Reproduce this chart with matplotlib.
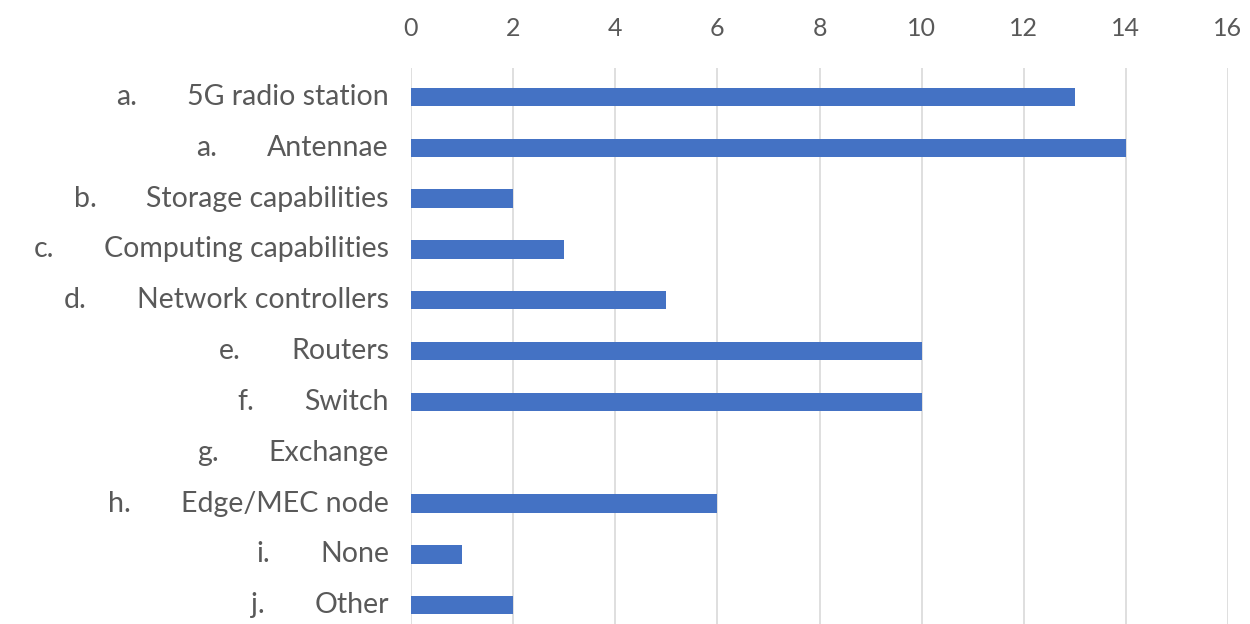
import numpy as np
import matplotlib.pyplot as plt

prefixes = ["a.", "a.", "b.", "c.", "d.", "e.", "f.", "g.", "h.", "i.", "j."]
names = ["5G radio station", "Antennae", "Storage capabilities", "Computing capabilities",
         "Network controllers", "Routers", "Switch", "Exchange", "Edge/MEC node", "None", "Other"]
counts = [13, 14, 2, 3, 5, 10, 10, 0, 6, 1, 2]
xticks = [0, 2, 4, 6, 8, 10, 12, 14, 16]

plt.rcParams['font.family'] = ['Lato', 'DejaVu Sans']

fig = plt.figure(figsize=(12.5, 6.24), dpi=100)
ax = fig.add_axes([0.3288, 0.0, 0.9824 - 0.3288, 1 - 68 / 624])

y = np.arange(len(names))
ax.barh(y, counts, height=0.36, color="#4472C4", zorder=3)

ax.set_xlim(0, 16)
ax.set_ylim(10.37, -0.57)
ax.set_xticks(xticks)
ax.xaxis.tick_top()
ax.tick_params(axis="x", length=0, pad=20, labelsize=18, labelcolor="#595959")
ax.set_yticks([])
ax.grid(axis="x", color="#d9d9d9", linewidth=1.2, zorder=0)
for s in ax.spines.values():
    s.set_visible(False)

# category labels: name right-aligned against the axis, letter placed before it
fig.canvas.draw()
renderer = fig.canvas.get_renderer()
name_right = 389 / 1250
gap = 50
for i, (p, n) in enumerate(zip(prefixes, names)):
    yy = ax.transData.transform((0, i))[1]
    yf = yy / fig.bbox.height
    t = fig.text(name_right, yf, n, ha="right", va="center", fontsize=20.5, color="#595959")
    bb = t.get_window_extent(renderer)
    fig.text((bb.x0 - gap) / fig.bbox.width, yf, p, ha="right", va="center",
             fontsize=20.5, color="#595959")

fig.savefig("out.png", dpi=100)
